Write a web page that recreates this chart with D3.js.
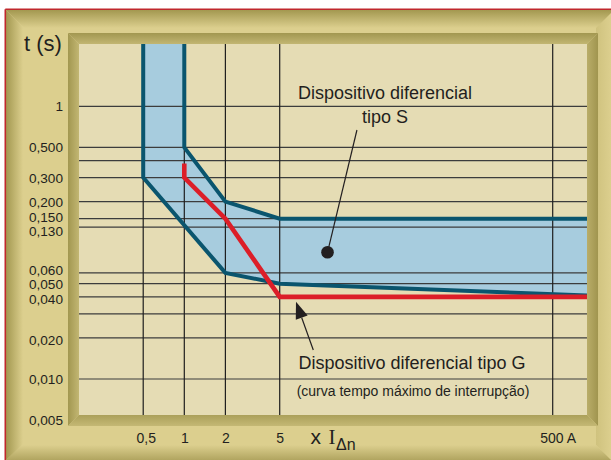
<!DOCTYPE html>
<html><head><meta charset="utf-8">
<script src="https://cdn.jsdelivr.net/npm/d3@7"></script>
<style>
body{margin:0;background:#fff;}
svg{display:block;}
text{font-family:"Liberation Sans",Arial,Helvetica,sans-serif;fill:#231f20;}
</style>
</head><body>
<svg id="c" width="611" height="460"></svg>
<script>
// ---------- data ----------
const xTickValues = [0.5, 1, 2, 5, 500];
const xTickLabels = ["0,5", "1", "2", "5", "500 A"];
const yTickValues = [1, 0.5, 0.3, 0.2, 0.15, 0.13, 0.06, 0.05, 0.04, 0.02, 0.01, 0.005];
const yTickLabels = ["1", "0,500", "0,300", "0,200", "0,150", "0,130", "0,060", "0,050", "0,040", "0,020", "0,010", "0,005"];
const xGridValues = [0.5, 1, 2, 5, 500];
const yGridValues = [1, 0.5, 0.4, 0.3, 0.2, 0.15, 0.13, 0.06, 0.05, 0.04, 0.03, 0.02, 0.01];
// Dispositivo diferencial tipo S: band between upper and lower limits (x IΔn, t in s)
const tipoSUpperX = [1, 1, 2, 5, 900];
const tipoSUpperT = [3, 0.5, 0.2, 0.15, 0.15];
const tipoSLowerX = [0.5, 0.5, 2, 5, 900];
const tipoSLowerT = [3, 0.3, 0.06, 0.05, 0.041];
// Dispositivo diferencial tipo G: maximum interruption time
const tipoGX = [1, 1, 2, 5, 900];
const tipoGT = [0.38, 0.3, 0.15, 0.04, 0.04];
// annotation anchors (x IΔn, t)
const dotS = [11.2, 0.085];
const leaderSTop = [18.4, 0.67];
const arrowGTip = [6.58, 0.0369];
const arrowGTail = [8.81, 0.01634];

// ---------- layout ----------
const svg = d3.select("#c");
const P = {l: 79, r: 587, t: 44, b: 415};
const x = d3.scaleLog().domain([1, 500]).range([184.3, 552.7]);
const y = d3.scaleLog().domain([0.01, 1]).range([379, 106.3]);

const defs = svg.append("defs");
function grad(id, x1, y1, x2, y2, c1, c2) {
  const g = defs.append("linearGradient").attr("id", id).attr("gradientUnits", "userSpaceOnUse")
    .attr("x1", x1).attr("y1", y1).attr("x2", x2).attr("y2", y2);
  g.append("stop").attr("offset", 0).attr("stop-color", c1);
  g.append("stop").attr("offset", 1).attr("stop-color", c2);
}
const GOLD = "#dccf8e", OLIVE = "#a39850";
grad("gTop", 0, 10, 0, 28, OLIVE, GOLD);
grad("gLeft", 6, 0, 23, 0, OLIVE, GOLD);
grad("gBot", 0, 445, 0, 460, GOLD, "#b1a560");
grad("gRight", 596, 0, 611, 0, "#cfc27e", GOLD);
grad("iTop", 0, 33, 0, 44, "#a29750", "#c2b672");
grad("iLeft", 68, 0, 79, 0, "#a29750", "#c2b672");
grad("iRight", 587, 0, 598, 0, "#b9ad69", "#a0954f");
grad("iBot", 0, 415, 0, 426, "#aba05a", "#c4b874");

// outer frame
svg.append("rect").attr("x", 6).attr("y", 10).attr("width", 605).attr("height", 450).attr("fill", GOLD);
const poly = (pts, fill) => svg.append("polygon").attr("points", pts.map(p => p.join(",")).join(" ")).attr("fill", fill);
poly([[6,10],[611,10],[611,28],[24,28]], "url(#gTop)");
poly([[596,28],[611,13],[611,460],[596,445]], "url(#gRight)");
poly([[6,460],[611,460],[611,460],[596,445],[21,445]], "url(#gBot)");
poly([[6,10],[24,28],[24,443],[6,460]], "url(#gLeft)");
svg.append("line").attr("x1", 5.3).attr("x2", 611).attr("y1", 9.2).attr("y2", 9.2).attr("stroke", "#c0282d").attr("stroke-width", 1.6);
svg.append("line").attr("x1", 5.3).attr("x2", 5.3).attr("y1", 9.2).attr("y2", 460).attr("stroke", "#c0282d").attr("stroke-width", 1.6);

// inner bevel
poly([[68,33],[598,33],[587,44],[79,44]], "url(#iTop)");
poly([[68,33],[79,44],[79,415],[68,426]], "url(#iLeft)");
poly([[598,33],[598,426],[587,415],[587,44]], "url(#iRight)");
poly([[68,426],[79,415],[587,415],[598,426]], "url(#iBot)");

// plot background
svg.append("rect").attr("x", P.l).attr("y", P.t).attr("width", P.r - P.l).attr("height", P.b - P.t).attr("fill", "#e5dcb4");
defs.append("clipPath").attr("id", "plotClip").append("rect")
  .attr("x", P.l).attr("y", P.t).attr("width", P.r - P.l).attr("height", P.b - P.t);
const plot = svg.append("g").attr("clip-path", "url(#plotClip)");

// band fill
const upper = tipoSUpperX.map((v, i) => [x(v), y(tipoSUpperT[i])]);
const lower = tipoSLowerX.map((v, i) => [x(v), y(tipoSLowerT[i])]);
plot.append("polygon").attr("points", upper.concat(lower.slice().reverse()).map(p => p.join(",")).join(" "))
  .attr("fill", "#a7ccde");

// grid
plot.selectAll(".hg").data(yGridValues).join("line")
  .attr("x1", P.l).attr("x2", P.r).attr("y1", d => y(d)).attr("y2", d => y(d))
  .attr("stroke", "#3c3c3c").attr("stroke-width", 1.2);
plot.selectAll(".vg").data(xGridValues).join("line")
  .attr("x1", d => x(d)).attr("x2", d => x(d)).attr("y1", P.t).attr("y2", P.b)
  .attr("stroke", "#1e1e1e").attr("stroke-width", 1.2);

// curves
const line = d3.line();
plot.append("path").attr("d", line(upper)).attr("fill", "none").attr("stroke", "#0a556e")
  .attr("stroke-width", 4).attr("stroke-linejoin", "miter");
plot.append("path").attr("d", line(lower)).attr("fill", "none").attr("stroke", "#0a556e")
  .attr("stroke-width", 4).attr("stroke-linejoin", "miter");
const gPts = tipoGX.map((v, i) => [x(v), y(tipoGT[i])]);
plot.append("path").attr("d", line(gPts)).attr("fill", "none").attr("stroke", "#dc1e28")
  .attr("stroke-width", 4.6).attr("stroke-linejoin", "miter");

// y axis labels (crowded labels nudged apart as in the original)
const nudge = new Map([[0.15, -2], [0.13, 3.8], [0.06, -2.9], [0.04, 2.4], [0.02, 2]]);
const yAxis = svg.append("g").attr("transform", "translate(63,0)")
  .call(d3.axisLeft(y).tickValues(yTickValues).tickFormat((d, i) => yTickLabels[i]).tickSize(0).tickPadding(0));
yAxis.select(".domain").remove();
yAxis.attr("font-family", null).attr("font-size", 13.6);
yAxis.selectAll("text").attr("fill", "#231f20").attr("dy", "0.34em")
  .attr("y", d => nudge.get(d) || 0);

// x axis labels
const xAxis = svg.append("g").attr("transform", "translate(0,433)")
  .call(d3.axisBottom(x).tickValues(xTickValues).tickFormat((d, i) => xTickLabels[i]).tickSize(0).tickPadding(0));
xAxis.select(".domain").remove();
xAxis.attr("font-family", null).attr("font-size", 14);
xAxis.selectAll("text").attr("fill", "#231f20").attr("dx", d => d === 0.5 ? 2.5 : d === 500 ? 5 : 0);

// axis titles
svg.append("text").attr("x", 24).attr("y", 51).attr("font-size", 22).text("t (s)");
const xt = svg.append("text").attr("y", 443.5);
xt.append("tspan").attr("x", 310.5).attr("font-size", 21).text("x");
xt.append("tspan").attr("x", 328.5).attr("font-size", 21).style("font-family", "'Liberation Serif','Times New Roman',serif").text("I");
xt.append("tspan").attr("x", 336).attr("y", 449.5).attr("font-size", 16).text("Δn");

// annotations
svg.append("line").attr("x1", x(leaderSTop[0])).attr("y1", y(leaderSTop[1]))
  .attr("x2", x(dotS[0])).attr("y2", y(dotS[1])).attr("stroke", "#231f20").attr("stroke-width", 1.2);
svg.append("circle").attr("cx", x(dotS[0])).attr("cy", y(dotS[1])).attr("r", 6.3).attr("fill", "#231f20");

const tip = [x(arrowGTip[0]), y(arrowGTip[1])], tail = [x(arrowGTail[0]), y(arrowGTail[1])];
const dx = tail[0] - tip[0], dy = tail[1] - tip[1], L = Math.hypot(dx, dy);
const ux = dx / L, uy = dy / L, hl = 17, hw = 6.3;
const bx = tip[0] + ux * hl, by = tip[1] + uy * hl;
svg.append("line").attr("x1", bx).attr("y1", by).attr("x2", tail[0]).attr("y2", tail[1])
  .attr("stroke", "#231f20").attr("stroke-width", 1.2);
svg.append("polygon").attr("points", [[tip[0], tip[1]], [bx - uy * hw, by + ux * hw], [bx + uy * hw, by - ux * hw]].map(p => p.join(",")).join(" "))
  .attr("fill", "#231f20");

svg.append("text").attr("x", 385).attr("y", 99.3).attr("text-anchor", "middle").attr("font-size", 18).text("Dispositivo diferencial");
svg.append("text").attr("x", 385).attr("y", 123).attr("text-anchor", "middle").attr("font-size", 18).text("tipo S");
svg.append("text").attr("x", 412).attr("y", 369.3).attr("text-anchor", "middle").attr("font-size", 18).text("Dispositivo diferencial tipo G");
svg.append("text").attr("x", 413).attr("y", 395.5).attr("text-anchor", "middle").attr("font-size", 14).text("(curva tempo máximo de interrupção)");
</script>
</body></html>
